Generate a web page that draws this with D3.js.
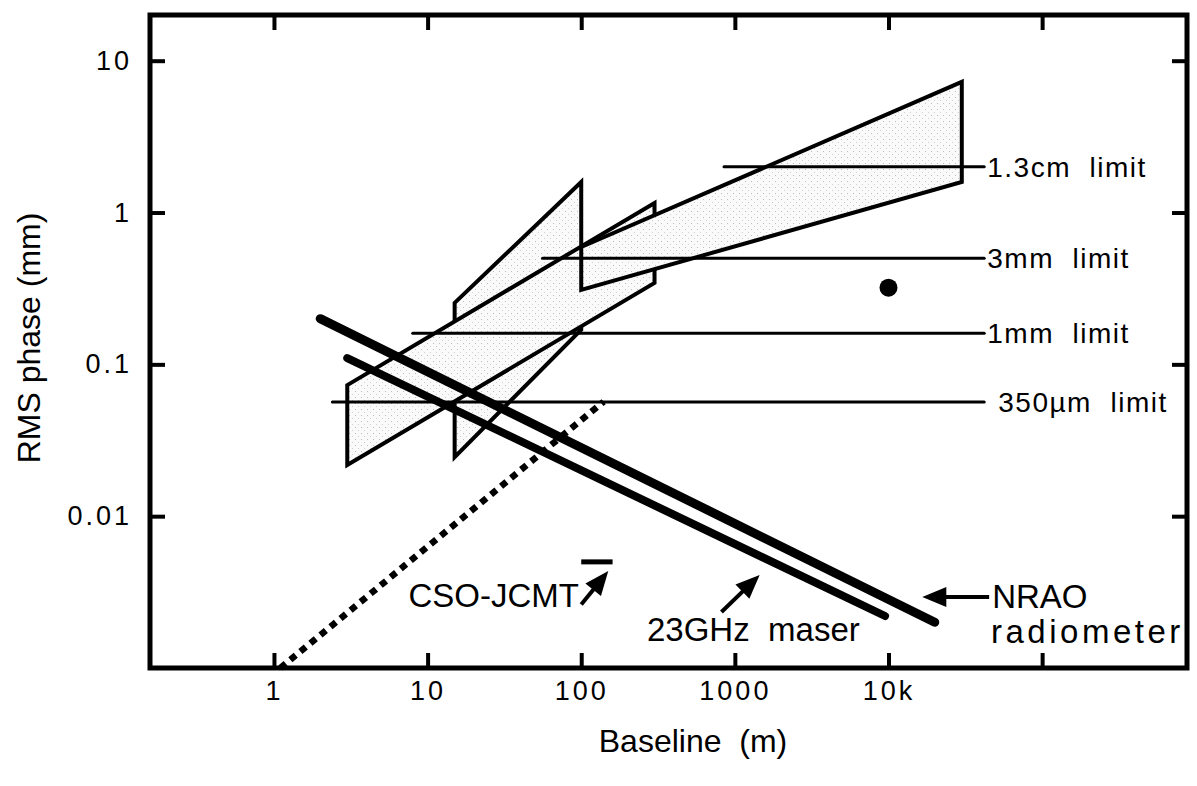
<!DOCTYPE html>
<html>
<head>
<meta charset="utf-8">
<script src="https://cdn.jsdelivr.net/npm/d3@7"></script>
<style>
  body { margin: 0; background: #fff; }
  text { font-family: "Liberation Sans", Arial, Helvetica, sans-serif; fill: #000; }
</style>
</head>
<body>
<svg id="chart" width="1197" height="786"></svg>
<script>
// axis ticks
var xTicks = [1, 10, 100, 1000, 10000, 100000];
var xTickLabels = ['1', '10', '100', '1000', '10k', ''];
var yTicks = [0.01, 0.1, 1, 10];
var yTickLabels = ['0.01', '0.1', '1', '10'];

// shaded ranges, [baseline (m), rms phase (mm)] in outline order
var band15to100 = [[15, 0.254], [100, 1.59], [100, 0.169], [15, 0.0245]];
var band3to300 = [[3, 0.073], [300, 1.155], [300, 0.344], [3, 0.0217]];
var band100to30k = [[100, 0.593], [30000, 7.25], [30000, 1.59], [100, 0.309]];

// observing limits
var limitNames = ['1.3cm  limit', '3mm  limit', '1mm  limit', '350\u00b5m  limit'];
var limitValues = [2.0, 0.5, 0.16, 0.0565];
var limitStarts = [850, 56, 8, 2.4];
var limitEnd = 42000;

// other curves
var nraoLine = [[2, 0.2], [20000, 0.002]];
var maserLine = [[3, 0.11], [9500, 0.0022]];
var kolmogorovLine = [[1.1, 0.001], [140, 0.0568]];
var csoJcmtBar = [[100, 0.005], [160, 0.005]];
var vlaPoint = [10000, 0.32];

// annotation arrows [tail, tip] and labels [x, y, text]
var arrows = [
    [[100, 0.00262], [150, 0.00435]],
    [[818, 0.00234], [1450, 0.00410]],
    [[45200, 0.00294], [16600, 0.00294]]
];
var labels = [
    [7.5, 0.00252, 'CSO-JCMT'],
    [268, 0.00151, '23GHz  maser'],
    [47300, 0.00250, 'NRAO'],
    [46500, 0.00146, 'radiometer']
];

var svg = d3.select('#chart');
var plotLeft = 150, plotRight = 1187, plotTop = 15, plotBottom = 668;

var x = d3.scaleLog()
    .domain([0.156, 877000])
    .range([plotLeft, plotRight]);

var y = d3.scaleLog()
    .domain([0.001, 20])
    .range([plotBottom, plotTop]);

var line = d3.line()
    .x(function (d) { return x(d[0]); })
    .y(function (d) { return y(d[1]); });

// light stipple used inside the bands
var pat = svg.append('defs').append('pattern')
    .attr('id', 'stipple')
    .attr('patternUnits', 'userSpaceOnUse')
    .attr('width', 6).attr('height', 6);
pat.append('rect').attr('width', 6).attr('height', 6).attr('fill', '#fafafa');
pat.append('rect').attr('x', 1).attr('y', 1).attr('width', 1).attr('height', 1).attr('fill', '#bdbdbd');
pat.append('rect').attr('x', 4).attr('y', 4).attr('width', 1).attr('height', 1).attr('fill', '#d0d0d0');

// shaded bands, drawn in this order so later fills hide earlier edges
[band15to100, band3to300, band100to30k].forEach(function (b) {
    svg.append('path')
        .attr('d', line(b) + 'Z')
        .attr('fill', 'url(#stipple)')
        .attr('stroke', '#000')
        .attr('stroke-width', 4)
        .attr('stroke-linejoin', 'miter');
});

// limit lines with labels
limitValues.forEach(function (v, i) {
    svg.append('path')
        .attr('d', line([[limitStarts[i], v], [limitEnd, v]]))
        .attr('stroke', '#000')
        .attr('stroke-width', 3)
        .attr('stroke-linecap', 'round');
    svg.append('text')
        .attr('x', x(limitEnd) + (i == 3 ? 14 : 3))
        .attr('y', y(v))
        .attr('dy', '0.36em')
        .style('white-space', 'pre')
        .style('font-size', '28px')
        .style('letter-spacing', '1.5px')
        .text(limitNames[i]);
});

// dotted line
svg.append('path')
    .attr('d', line(kolmogorovLine))
    .attr('stroke', '#000')
    .attr('stroke-width', 6.5)
    .attr('stroke-dasharray', '7,6')
    .attr('fill', 'none');

// thick lines
svg.append('path')
    .attr('d', line(nraoLine))
    .attr('stroke', '#000')
    .attr('stroke-width', 9)
    .attr('stroke-linecap', 'round');
svg.append('path')
    .attr('d', line(maserLine))
    .attr('stroke', '#000')
    .attr('stroke-width', 8)
    .attr('stroke-linecap', 'round');

svg.append('path')
    .attr('d', line(csoJcmtBar))
    .attr('stroke', '#000')
    .attr('stroke-width', 5);

svg.append('circle')
    .attr('cx', x(vlaPoint[0]))
    .attr('cy', y(vlaPoint[1]))
    .attr('r', 9)
    .attr('fill', '#000');

// arrows
arrows.forEach(function (a) {
    var x0 = x(a[0][0]), y0 = y(a[0][1]), x1 = x(a[1][0]), y1 = y(a[1][1]);
    var ang = Math.atan2(y1 - y0, x1 - x0);
    var len = 24, wid = 10;
    var bx = x1 - len * Math.cos(ang), by = y1 - len * Math.sin(ang);
    svg.append('line')
        .attr('x1', x0).attr('y1', y0)
        .attr('x2', bx + 3 * Math.cos(ang)).attr('y2', by + 3 * Math.sin(ang))
        .attr('stroke', '#000')
        .attr('stroke-width', 4);
    svg.append('path')
        .attr('d', 'M' + x1 + ',' + y1 +
            'L' + (bx + wid * Math.sin(ang)) + ',' + (by - wid * Math.cos(ang)) +
            'L' + (bx - wid * Math.sin(ang)) + ',' + (by + wid * Math.cos(ang)) + 'Z')
        .attr('fill', '#000');
});

labels.forEach(function (l) {
    svg.append('text')
        .attr('x', x(l[0]))
        .attr('y', y(l[1]))
        .style('white-space', 'pre')
        .style('font-size', '33px')
        .style('letter-spacing', l[2] == 'radiometer' ? '3.5px' : '0px')
        .text(l[2]);
});

// axes, ticks pointing inwards
var xAxis = d3.axisBottom(x)
    .tickValues(xTicks)
    .tickSize(-15)
    .tickPadding(13)
    .tickFormat(function (d, i) { return xTickLabels[i]; });
var xAxisTop = d3.axisTop(x).tickValues(xTicks).tickSize(-15).tickFormat('');
var yAxis = d3.axisLeft(y)
    .tickValues(yTicks)
    .tickSize(-15)
    .tickPadding(18)
    .tickFormat(function (d, i) { return yTickLabels[i]; });
var yAxisRight = d3.axisRight(y).tickValues(yTicks).tickSize(-15).tickFormat('');

var gx = svg.append('g').attr('transform', 'translate(0,' + plotBottom + ')').call(xAxis);
var gxt = svg.append('g').attr('transform', 'translate(0,' + plotTop + ')').call(xAxisTop);
var gy = svg.append('g').attr('transform', 'translate(' + plotLeft + ',0)').call(yAxis);
var gyr = svg.append('g').attr('transform', 'translate(' + plotRight + ',0)').call(yAxisRight);

[gx, gxt, gy, gyr].forEach(function (g) {
    g.select('.domain').remove();
    g.selectAll('.tick line').attr('stroke', '#000').attr('stroke-width', 4);
    g.selectAll('.tick text')
        .style('font-family', '"Liberation Sans", Arial, sans-serif')
        .style('font-size', '27px')
        .style('letter-spacing', '3px')
        .attr('fill', '#000');
});

// frame
svg.append('rect')
    .attr('x', plotLeft).attr('y', plotTop)
    .attr('width', plotRight - plotLeft).attr('height', plotBottom - plotTop)
    .attr('fill', 'none')
    .attr('stroke', '#000')
    .attr('stroke-width', 5);

// axis titles
svg.append('text')
    .attr('x', 693)
    .attr('y', 752)
    .attr('text-anchor', 'middle')
    .style('white-space', 'pre')
    .style('font-size', '32px')
    .text('Baseline  (m)');

svg.append('text')
    .attr('transform', 'translate(40,338) rotate(-90)')
    .attr('text-anchor', 'middle')
    .style('font-size', '32px')
    .text('RMS phase (mm)');
</script>
</body>
</html>
